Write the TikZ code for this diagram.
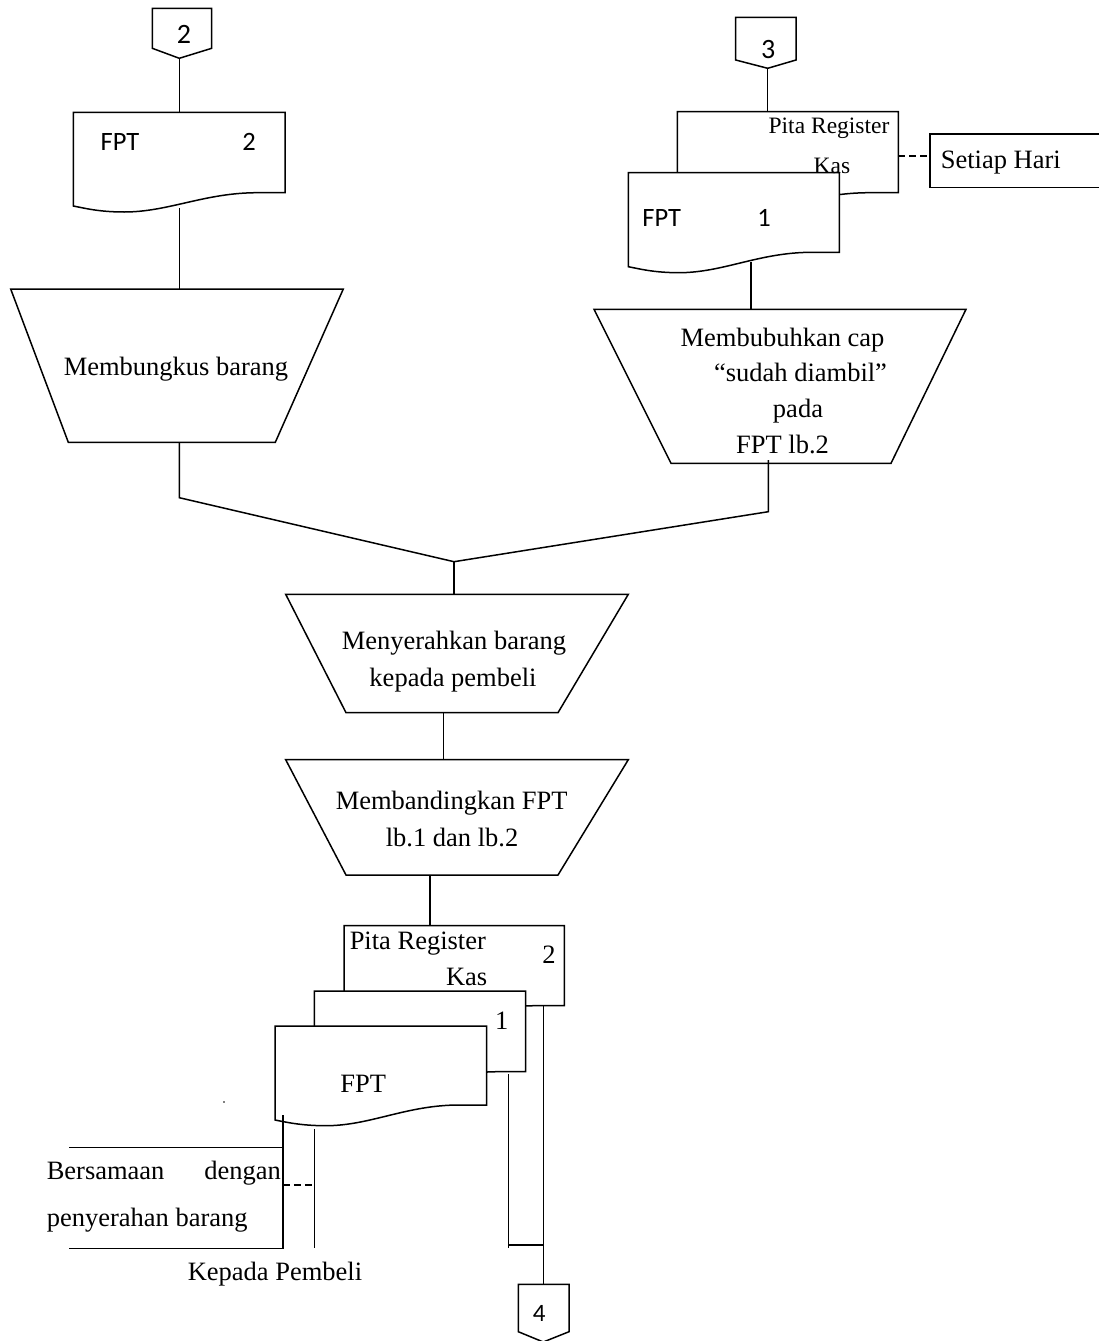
\documentclass[tikz,border=0pt]{standalone}
\usepackage{fontspec}
\setmainfont{Liberation Serif}
\newfontfamily\sansf{Carlito}
% document symbol: [style] L T R RB LB MIN
\newcommand\docshape[7][]{%
  \draw[#1] (#2,#3) -- (#4,#3) -- (#4,#5) -- ({#2+0.87*(#4-#2)},#5)
    .. controls ({#2+0.62*(#4-#2)},#5) and ({#2+0.45*(#4-#2)},#7) .. ({#2+0.24*(#4-#2)},#7)
    .. controls ({#2+0.12*(#4-#2)},#7) and ({#2+0.05*(#4-#2)},{#6+2}) .. (#2,#6) -- cycle;}
\begin{document}
\begin{tikzpicture}[x=1pt,y=-1pt,line width=1.5pt,line join=miter,
  serif/.style={font=\fontsize{26.5}{30}\selectfont,inner sep=0pt,anchor=base},
  serifsm/.style={font=\fontsize{23.5}{28}\selectfont,inner sep=0pt,anchor=base},
  sans/.style={font=\sansf\fontsize{26.5}{30}\selectfont,inner sep=0pt,anchor=base},
  sansbig/.style={font=\sansf\fontsize{28}{30}\selectfont,inner sep=0pt,anchor=base},
  thinln/.style={line width=0.9pt},
  medln/.style={line width=1.1pt},
  dashln/.style={dash pattern=on 7pt off 4pt,line width=2pt}]
\useasboundingbox (0,0) rectangle (1099,1341);

% ---------- left column top ----------
\draw (152.3,8.3) -- (211.7,8.3) -- (211.7,48.3) -- (179.3,58.3) -- (152.3,48.3) -- cycle;
\node[sansbig] (c2t) at (184,43.3) {2};
\coordinate (c2) at (179.3,58.3);
\docshape{73.3}{112.3}{285}{192.7}{206}{212}
\coordinate (d2top) at (179.3,112.3);
\coordinate (d2bot) at (179.3,208);
\node[sans] (d2a) at (120,150) {FPT};
\node[sans] (d2b) at (249,150) {2};
\draw (c2) -- (d2top);
\draw (10.7,289) -- (343.3,289) -- (275.3,442.3) -- (68.3,442.3) -- cycle;
\coordinate (t1top) at (179.3,289);
\coordinate (t1bot) at (179.3,442.3);
\node[serif] (t1a) at (176,375) {Membungkus barang};
\draw (d2bot) -- (t1top);

% ---------- right column top ----------
\draw (735.7,17.3) -- (796,17.3) -- (796,60) -- (767.7,68.3) -- (735.7,60) -- cycle;
\node[sansbig] (c3t) at (768.3,58.3) {3};
\coordinate (c3) at (767.7,68.3);
\docshape[fill=white]{677.3}{111.7}{898.3}{192.7}{206}{212}
\coordinate (p1top) at (767.7,111.7);
\coordinate (p1right) at (898.3,156);
\draw (c3) -- (p1top);
\docshape[fill=white]{628.3}{172.7}{839.3}{252.3}{266.7}{272.7}
\node[serifsm] (p1a) at (829,133.3) {Pita Register};
\node[serifsm] (p1b) at (832,173.3) {Kas};
\node[sans] (d1a) at (661.7,226.7) {FPT};
\node[sans] (d1b) at (764,226.7) {1};
\coordinate (d1bot) at (751,261.7);
% Setiap Hari annotation
\draw (1099,134) -- (930,134) -- (930,187.7) -- (1099,187.7);
\coordinate (shleft) at (930,156);
\node[serif] (sh) at (1000.8,168.3) {Setiap Hari};
\draw[dashln] (p1right) -- (shleft);
% trapezium 2
\draw (594,309.3) -- (966,309.3) -- (891,463.3) -- (671,463.3) -- cycle;
\coordinate (t2top) at (751,309.3);
\coordinate (t2bot) at (768.3,460);
\draw (d1bot) -- (t2top);
\node[serif] (t2a) at (782.5,346.7) {Membubuhkan cap};
\node[serif] (t2b) at (800.5,381.7) {“sudah diambil”};
\node[serif] (t2c) at (798,417.3) {pada};
\node[serif] (t2d) at (782.5,453.3) {FPT lb.2};

% ---------- merge ----------
\coordinate (j) at (454,561.7);
\coordinate (jl) at (179.3,497.7);
\coordinate (jr) at (768.3,511.7);
\draw (t1bot) -- (jl) -- (j);
\draw (t2bot) -- (jr) -- (j);
\draw (285.7,594.3) -- (628.3,594.3) -- (558,712.7) -- (346,712.7) -- cycle;
\coordinate (t3top) at (454,594.3);
\coordinate (t3bot) at (443.3,712.7);
\draw (j) -- (t3top);
\node[serif] (t3a) at (454,649) {Menyerahkan barang};
\node[serif] (t3b) at (453,686) {kepada pembeli};
\draw (285.7,759.7) -- (628.3,759.7) -- (558,875) -- (346,875) -- cycle;
\coordinate (t4top) at (443.3,759.7);
\coordinate (t4bot) at (430,875);
\draw (t3bot) -- (t4top);
\node[serif] (t4a) at (451.7,809.3) {Membandingkan FPT};
\node[serif] (t4b) at (452,846.7) {lb.1 dan lb.2};

% ---------- bottom stack ----------
\docshape[fill=white]{344}{925.7}{564.3}{1005.7}{1020}{1026}
\coordinate (p2top) at (430,925.7);
\draw (t4bot) -- (p2top);
\docshape[fill=white]{314.3}{991}{525.7}{1071.7}{1086}{1092}
\docshape[fill=white]{275}{1026}{486.7}{1105}{1120}{1125.7}
\node[serif] (p2a) at (349,949.3) [anchor=base west] {Pita Register};
\node[serif] (p2b) at (549,963.3) {2};
\node[serif] (p2c) at (466.7,985) {Kas};
\node[serif] (m1) at (501.7,1029.3) {1};
\node[serif] (f0) at (363.3,1092.7) {FPT};

\coordinate (fb) at (282.8,1115);
\coordinate (fbc) at (282.8,1248.3);
\coordinate (fbl) at (69,1248.3);
\draw (fb) -- (fbc) -- (fbl);
\draw[thinln] (69,1147.7) -- (282.8,1147.7);
\coordinate (m1b) at (314.3,1129.3);
\coordinate (m1e) at (314.3,1248.3);
\draw[thinln] (m1b) -- (m1e);
\draw[dashln] (282.8,1185) -- (312.3,1185);
\node[serif] (bs1) at (46,1179.3) [anchor=base west] {Bersamaan};
\node[serif] (bs2) at (281.6,1179.3) [anchor=base east] {dengan};
\node[serif] (bs3) at (46,1226.7) [anchor=base west] {penyerahan barang};
\node[serif] (kp) at (275,1280) {Kepada Pembeli};

\coordinate (m1r) at (508.3,1074);
\coordinate (m1re) at (508.3,1248.3);
\coordinate (hj) at (508.3,1245);
\coordinate (hj2) at (543.3,1245);
\coordinate (p2r) at (543.3,1006);
\coordinate (c4) at (543.3,1284.3);
\draw[medln] (m1r) -- (m1re);
\draw[medln] (hj) -- (hj2);
\draw (p2r) -- (c4);
\draw (518.3,1284.3) -- (569,1284.3) -- (569,1331.7) -- (543.3,1342) -- (518.3,1331.7) -- cycle;
\node[sans,font=\sansf\fontsize{25}{30}\selectfont] (c4t) at (539.3,1321.7) {4};

\fill (224,1102) circle (0.8);
\end{tikzpicture}
\end{document}
